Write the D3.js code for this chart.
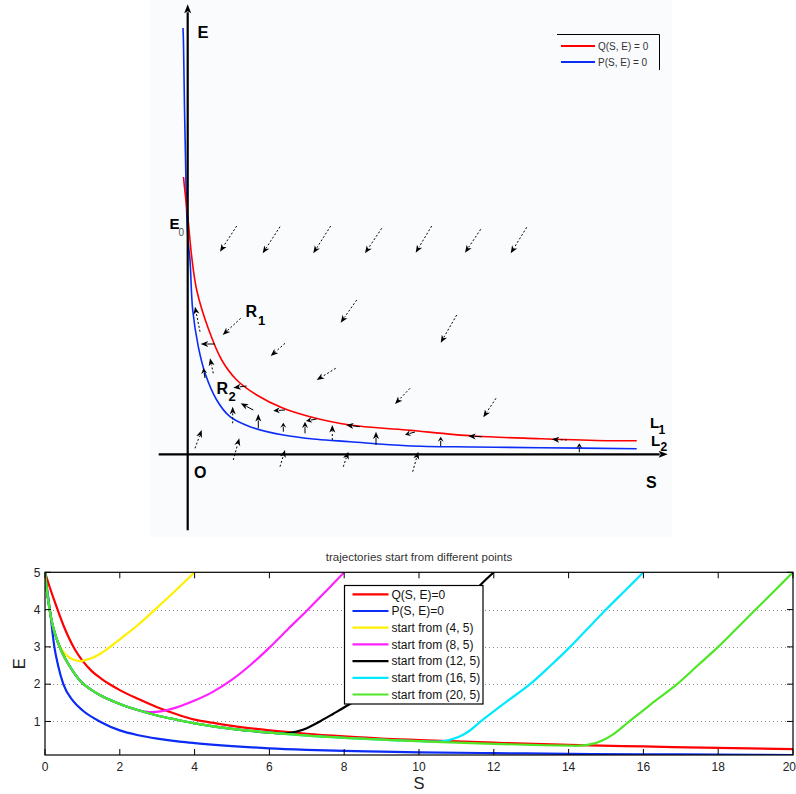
<!DOCTYPE html>
<html><head><meta charset="utf-8">
<script src="https://cdn.jsdelivr.net/npm/d3@7"></script>
<style>body{margin:0;background:#fff}svg{display:block}text{font-family:"Liberation Sans",Arial,Helvetica,sans-serif}</style>
</head><body>
<script>
// ---------- TOP PANEL (schematic phase portrait) data, schematic units ----------
const topQ = [[-0.42,27.73],[-0.27,26.23],[-0.07,24.43],[0.06,23.23],[0.4,19.76],[0.9,16.43],[2.05,12.6],[3.4,9.43],[4.9,7.43],[6.9,5.93],[9.56,4.6],[12.23,3.76],[16.23,2.93],[21.9,2.43],[28.56,1.83],[35.23,1.56],[41.9,1.36],[44.9,1.36]];
const topP = [[-0.47,42.63],[-0.42,41.13],[-0.32,34.63],[-0.22,29.73],[-0.1,24.13],[0.03,21.43],[0.23,19.43],[0.5,14.43],[1.06,10.76],[1.73,8.13],[2.9,5.43],[4.23,3.76],[6.23,2.76],[9.56,1.93],[12.9,1.5],[16.23,1.26],[21.9,0.86],[28.56,0.73],[35.23,0.66],[44.9,0.56]];
const topArrows = [
 [4.9,22.83,3.23,20.26],[9.23,22.76,7.5,20.1],[14.3,22.83,12.56,20.1],[19.4,22.6,17.73,20.1],[24.4,22.83,22.8,20.16],[29.3,22.5,27.73,20.16],[33.9,22.7,32.3,20.1],
 [16.9,15.43,15.3,13.16],[26.9,13.93,25.3,11.16],[5.3,13.6,3.5,11.93],[9.73,11.1,8.3,9.83],[14.8,8.6,12.9,7.43],[22.23,6.6,20.73,5.03],[30.83,5.6,29.56,3.7],
 [2.73,11.03,1.3,11.03],[5.9,6.83,4.56,6.66],[6.56,4.43,5.3,5.1],[9.73,4.43,8.56,4.36],[17.23,2.76,15.83,2.93],[22.73,2.23,21.73,1.96],[29.4,1.76,28.06,1.83],[37.9,1.43,36.4,1.5],[12.9,3.53,11.83,3.33],
 [4.5,3.1,4.5,4.76],[7.06,2.6,7.06,4.03],[9.56,2.26,9.56,3.16],[11.73,2.1,11.73,3.26],[14.46,1.43,14.46,2.93],[18.83,0.93,18.83,2.26],[25.3,0.83,25.3,1.76],[39.16,0.2,39.16,1.1],
 [1.23,12.26,0.73,14.76],[2.56,8.1,2.23,9.6],[1.73,7.63,1.56,8.6],
 [0.73,0.6,1.4,2.43],[4.56,-0.57,5.16,1.6],[9.23,-1.24,9.73,0.43],[15.56,-1.24,16.06,0.26],[22.5,-1.74,23.06,0.26]
];
const topAxisS = [-2.9, 48.0];
const topAxisE = [-7.6, 45.0];
const topLegend = ["Q(S, E) = 0", "P(S, E) = 0"];

// ---------- BOTTOM PANEL data ----------
const xTicks = [0,2,4,6,8,10,12,14,16,18,20];
const yTicks = [1,2,3,4,5];
const gridE = [1,2,3,4];
const seriesNames = ["Q(S, E)=0","P(S, E)=0","start from (4, 5)","start from (8, 5)","start from (12, 5)","start from (16, 5)","start from (20, 5)"];
const qCurve = [[0,5],[0.12,4.62],[0.25,4.24],[0.36,3.93],[0.5,3.56],[0.65,3.22],[0.8,2.93],[1,2.63],[1.25,2.35],[1.5,2.15],[1.74,1.99],[2,1.84],[2.5,1.6],[3,1.38],[3.5,1.2],[4,1.05],[4.5,0.96],[5,0.88],[6,0.76],[7,0.67],[8,0.6],[9,0.54],[10,0.5],[12,0.43],[14,0.37],[16,0.33],[18,0.29],[20,0.26]];
const pCurve = [[0,5],[0.05,4.6],[0.13,4],[0.25,3],[0.35,2.5],[0.49,2],[0.75,1.55],[1,1.3],[1.5,0.98],[2,0.76],[2.5,0.63],[3,0.54],[3.6,0.46],[4,0.42],[5,0.34],[6,0.28],[7,0.24],[8,0.21],[9,0.19],[10,0.17],[12,0.15],[14,0.13],[16,0.12],[18,0.11],[20,0.1]];
const traj4 = [[4,5],[3.5,4.52],[2.94,4],[2.5,3.6],[2,3.2],[1.78,3.03],[1.5,2.83],[1.2,2.68],[0.95,2.62],[0.75,2.66],[0.6,2.75],[0.5,2.86],[0.4,3.0],[0.3,3.25],[0.2,3.6],[0.15,3.85],[0.1,4.15],[0.05,4.52],[0,5]];
const traj8 = [[8,5],[7.5,4.48],[7,3.97],[6.5,3.48],[6,2.98],[5.5,2.52],[5,2.12],[4.5,1.8],[4,1.56],[3.5,1.37],[3.1,1.27],[2.8,1.25],[2.5,1.3],[2,1.47],[1.5,1.69],[1.25,1.84],[1,2.03],[0.8,2.27],[0.6,2.58],[0.5,2.76],[0.4,2.98],[0.3,3.25],[0.2,3.6],[0.15,3.85],[0.1,4.15],[0.05,4.52],[0,5]];
const traj12 = [[12,5],[11.7,4.72],[11,4.02],[10,3.0],[9,2.05],[8.07,1.42],[7.7,1.2],[7.35,1.0],[7,0.82],[6.7,0.72],[6.4,0.68],[6,0.7],[5,0.8],[4,0.95],[3.5,1.05],[3,1.16],[2.5,1.3],[2,1.47],[1.5,1.69],[1.25,1.84],[1,2.03],[0.8,2.27],[0.6,2.58],[0.5,2.76],[0.4,2.98],[0.3,3.25],[0.2,3.6],[0.15,3.85],[0.1,4.15],[0.05,4.52],[0,5]];
const traj16 = [[16,5],[15.5,4.5],[15,4.0],[14.5,3.48],[14.04,3.0],[13.5,2.48],[12.97,2.0],[12.3,1.5],[11.65,1.0],[11.35,0.75],[11.1,0.6],[10.8,0.5],[10.5,0.46],[10,0.47],[9,0.51],[8,0.56],[7,0.62],[6,0.7],[5,0.8],[4,0.95],[3.5,1.05],[3,1.16],[2.5,1.3],[2,1.47],[1.5,1.69],[1.25,1.84],[1,2.03],[0.8,2.27],[0.6,2.58],[0.5,2.76],[0.4,2.98],[0.3,3.25],[0.2,3.6],[0.15,3.85],[0.1,4.15],[0.05,4.52],[0,5]];
const traj20 = [[20,5],[19.5,4.5],[19,4],[18.5,3.5],[18,3],[17.45,2.5],[16.9,2],[16.2,1.46],[15.6,0.98],[15.2,0.66],[14.9,0.49],[14.6,0.39],[14.3,0.35],[14,0.35],[13,0.37],[12,0.4],[11,0.43],[10,0.47],[9,0.51],[8,0.56],[7,0.62],[6,0.7],[5,0.8],[4,0.95],[3.5,1.05],[3,1.16],[2.5,1.3],[2,1.47],[1.5,1.69],[1.25,1.84],[1,2.03],[0.8,2.27],[0.6,2.58],[0.5,2.76],[0.4,2.98],[0.3,3.25],[0.2,3.6],[0.15,3.85],[0.1,4.15],[0.05,4.52],[0,5]];
const seriesColors = ["#ff0000","#0a2cf5","#fff000","#ff22ff","#000000","#00eaff","#50e628"];

// ---------- DRAW ----------
const W = 796, H = 794;
const svg = d3.select("body").append("svg").attr("width", W).attr("height", H);

// ===== top panel =====
const xT = d3.scaleLinear().domain([0, 48]).range([187.7, 667.7]);
const yT = d3.scaleLinear().domain([0, 45]).range([454.3, 4.3]);
const topG = svg.append("g");
topG.append("rect").attr("x", 150).attr("y", 0).attr("width", 522).attr("height", 537).attr("fill", "#f9fbfd");

function arrow(g, x1, y1, x2, y2, opt) {
  const dx = x2 - x1, dy = y2 - y1, L = Math.hypot(dx, dy);
  const ux = dx / L, uy = dy / L;
  const h = opt.h, w = opt.w;
  const bx = x2 - ux * h, by = y2 - uy * h;
  g.append("line").attr("x1", x1).attr("y1", y1).attr("x2", bx + ux * 1).attr("y2", by + uy * 1)
    .attr("stroke", "#000").attr("stroke-width", opt.sw)
    .attr("stroke-dasharray", opt.dash ? "2,2" : null);
  g.append("path").attr("d", `M${x2},${y2}L${bx - uy * w},${by + ux * w}L${bx + ux * 2},${by + uy * 2}L${bx + uy * w},${by - ux * w}Z`)
    .attr("fill", "#000");
}

const lineT = d3.line().x(d => xT(d[0])).y(d => yT(d[1])).curve(d3.curveCatmullRom.alpha(0.5));
topG.append("path").attr("d", lineT(topP)).attr("fill", "none").attr("stroke", "#0a2cf5").attr("stroke-width", 1.6);
topG.append("path").attr("d", lineT(topQ)).attr("fill", "none").attr("stroke", "#ff0000").attr("stroke-width", 1.6);

// axes
arrow(topG, xT(0), yT(topAxisE[0]), xT(0), yT(topAxisE[1]), {h: 9, w: 3.5, sw: 2.2, dash: false});
arrow(topG, xT(topAxisS[0]), yT(0), xT(topAxisS[1]), yT(0), {h: 9, w: 3.5, sw: 2.2, dash: false});

// direction arrows
topArrows.forEach(a => {
  const ax1 = xT(a[0]), ay1 = yT(a[1]), ax2 = xT(a[2]), ay2 = yT(a[3]);
  const L = Math.hypot(ax2 - ax1, ay2 - ay1);
  arrow(topG, ax1, ay1, ax2, ay2, {h: Math.min(7.5, L * 0.55), w: 3, sw: 1, dash: L > 15});
});

// labels
function lab(t, lx, ly, size, weight, fill) {
  topG.append("text").attr("x", lx).attr("y", ly).attr("font-size", size).attr("font-weight", weight || "bold").attr("fill", fill || "#000").text(t);
}
lab("E", 197.5, 37.5, 16.5);
lab("E", 169.5, 228.5, 15);
lab("0", 178.5, 235.5, 10, "normal", "#555");
lab("R", 245.5, 316.5, 16);
lab("1", 258, 324.5, 13);
lab("R", 216.5, 393.5, 16);
lab("2", 228.5, 400.5, 13);
lab("O", 194, 477.5, 16);
lab("S", 646, 487.5, 16);
lab("L", 650, 428, 15);
lab("1", 658.5, 434, 12);
lab("L", 651, 446, 15);
lab("2", 660.5, 451, 12);

// top legend (partial box)
topG.append("path").attr("d", "M557,34.5H659.5V70").attr("fill", "none").attr("stroke", "#000").attr("stroke-width", 1);
topLegend.forEach((t, i) => {
  const yy = 46 + i * 16;
  topG.append("line").attr("x1", 561).attr("x2", 595).attr("y1", yy).attr("y2", yy)
    .attr("stroke", i === 0 ? "#ff0000" : "#0a2cf5").attr("stroke-width", 2);
  topG.append("text").attr("x", 598).attr("y", yy + 3.5).attr("font-size", 10).attr("fill", "#333").text(t);
});

// ===== bottom panel =====
const x = d3.scaleLinear().domain([0, 20]).range([45, 793]);
const y = d3.scaleLinear().domain([0.1, 5]).range([755, 572.3]);
const bot = svg.append("g");
const px0 = x(0), px1 = x(20), py0 = y(0.1), py1 = y(5);

bot.append("text").attr("x", (px0 + px1) / 2).attr("y", 561).attr("text-anchor", "middle")
  .attr("font-size", 11.5).attr("fill", "#333").text("trajectories start from different points");

// grid
bot.selectAll(".grid").data(gridE).enter().append("line")
  .attr("x1", px0).attr("x2", px1).attr("y1", d => Math.round(y(d)) + 0.5).attr("y2", d => Math.round(y(d)) + 0.5)
  .attr("stroke", "#8a8a8a").attr("stroke-width", 1).attr("stroke-dasharray", "1,3");

svg.append("defs").append("clipPath").attr("id", "clipB").append("rect")
  .attr("x", px0).attr("y", py1).attr("width", px1 - px0).attr("height", py0 - py1);

const lineMono = d3.line().x(d => x(d[0])).y(d => y(d[1])).curve(d3.curveMonotoneX);
const lineTraj = d3.line().x(d => x(d[0])).y(d => y(d[1])).curve(d3.curveCatmullRom.alpha(0.5));
const allSeries = [qCurve, pCurve, traj4, traj8, traj12, traj16, traj20];
const cg = bot.append("g").attr("clip-path", "url(#clipB)");
allSeries.forEach((s, i) => {
  cg.append("path").attr("d", i < 2 ? lineMono(s) : lineTraj(s)).attr("fill", "none").attr("stroke", seriesColors[i])
    .attr("stroke-width", 2.2).attr("stroke-linejoin", "round");
});

// frame + ticks
bot.append("rect").attr("x", px0).attr("y", py1).attr("width", px1 - px0).attr("height", py0 - py1)
  .attr("fill", "none").attr("stroke", "#000").attr("stroke-width", 1.2);
xTicks.forEach((t, i) => {
  const xx = x(t);
  const last = i === xTicks.length - 1;
  bot.append("line").attr("x1", xx).attr("x2", xx).attr("y1", py0).attr("y2", py0 - 6).attr("stroke", "#000");
  bot.append("line").attr("x1", xx).attr("x2", xx).attr("y1", py1).attr("y2", py1 + 6).attr("stroke", "#000");
  bot.append("text").attr("x", last ? 796 : xx).attr("y", 771).attr("text-anchor", last ? "end" : "middle").attr("font-size", 12).attr("fill", "#222").text(t);
});
yTicks.forEach(t => {
  const yy = y(t);
  bot.append("line").attr("x1", px0).attr("x2", px0 + 6).attr("y1", yy).attr("y2", yy).attr("stroke", "#000");
  bot.append("line").attr("x1", px1).attr("x2", px1 - 6).attr("y1", yy).attr("y2", yy).attr("stroke", "#000");
  bot.append("text").attr("x", 40.5).attr("y", yy).attr("dy", "0.36em").attr("text-anchor", "end").attr("font-size", 12).attr("fill", "#222").text(t);
});
bot.append("text").attr("x", (px0 + px1) / 2).attr("y", 789).attr("text-anchor", "middle").attr("font-size", 16.5).attr("fill", "#222").text("S");
bot.append("text").attr("transform", `translate(25,${(py0 + py1) / 2}) rotate(-90)`).attr("text-anchor", "middle").attr("font-size", 16.5).attr("fill", "#222").text("E");

// legend
const lg = bot.append("g");
lg.append("rect").attr("x", 344.5).attr("y", 585.5).attr("width", 138.5).attr("height", 118.5)
  .attr("fill", "#fff").attr("stroke", "#000").attr("stroke-width", 1.2);
seriesNames.forEach((n, i) => {
  const yy = 594.3 + i * 16.7;
  lg.append("line").attr("x1", 352.5).attr("x2", 388.5).attr("y1", yy).attr("y2", yy).attr("stroke", seriesColors[i]).attr("stroke-width", 2.2);
  lg.append("text").attr("x", 391.5).attr("y", yy).attr("dy", "0.36em").attr("font-size", 12).attr("fill", "#111").text(n);
});
</script>
</body></html>
